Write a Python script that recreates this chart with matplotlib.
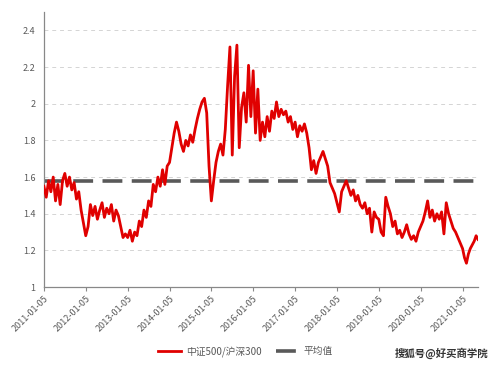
import pandas as pd
import numpy as np
import matplotlib
matplotlib.use('Agg')
from matplotlib import pyplot as plt

plt.rcParams['font.family'] = ['Noto Sans CJK SC', 'DejaVu Sans']

# ratio CSI500 / CSI300, values read per year (evenly spaced within each year)
v2011 = [1.55, 1.49, 1.58, 1.52, 1.60, 1.47, 1.56, 1.45, 1.58, 1.62, 1.55, 1.60, 1.53, 1.57, 1.48, 1.52, 1.42, 1.35]
v2012 = [1.28, 1.33, 1.45, 1.39, 1.44, 1.37, 1.42, 1.46, 1.38, 1.43, 1.40, 1.45, 1.36, 1.42, 1.39, 1.33, 1.27, 1.29]
v2013 = [1.27, 1.31, 1.25, 1.30, 1.28, 1.36, 1.33, 1.42, 1.38, 1.47, 1.44, 1.56, 1.52, 1.60, 1.55, 1.64, 1.56, 1.66]
v2014 = [1.68, 1.76, 1.84, 1.90, 1.85, 1.78, 1.74, 1.80, 1.77, 1.83, 1.79, 1.86, 1.92, 1.97, 2.01, 2.03, 1.95, 1.66]
v2015 = [1.47, 1.58, 1.68, 1.74, 1.78, 1.72, 1.86, 2.10, 2.31, 1.72, 2.15, 2.32, 1.76, 1.98, 2.06, 1.90, 2.21, 1.93]
v2016 = [2.18, 1.84, 2.08, 1.80, 1.90, 1.82, 1.93, 1.85, 1.96, 1.92, 2.01, 1.93, 1.97, 1.94, 1.96, 1.90, 1.93, 1.86]
v2017 = [1.90, 1.82, 1.88, 1.85, 1.89, 1.84, 1.76, 1.64, 1.69, 1.62, 1.68, 1.71, 1.74, 1.70, 1.66, 1.57, 1.54, 1.51]
v2018 = [1.46, 1.41, 1.52, 1.55, 1.58, 1.54, 1.50, 1.53, 1.47, 1.50, 1.45, 1.43, 1.46, 1.40, 1.43, 1.30, 1.41, 1.38]
v2019 = [1.37, 1.30, 1.28, 1.49, 1.44, 1.40, 1.33, 1.36, 1.29, 1.31, 1.27, 1.30, 1.34, 1.29, 1.26, 1.28, 1.25, 1.30]
v2020 = [1.33, 1.36, 1.41, 1.47, 1.38, 1.42, 1.36, 1.40, 1.37, 1.41, 1.29, 1.46, 1.40, 1.36, 1.32, 1.30, 1.27, 1.24]
v2021 = [1.21, 1.16, 1.13, 1.18, 1.21, 1.23, 1.25, 1.28, 1.26]
avg_value = 1.58

tick_labels = ['2011-01-05', '2012-01-05', '2013-01-05', '2014-01-05', '2015-01-05', '2016-01-05',
               '2017-01-05', '2018-01-05', '2019-01-05', '2020-01-05', '2021-01-05']
series_name = '中证500/沪深300'
avg_name = '平均值'


def build_series():
    years = [v2011, v2012, v2013, v2014, v2015, v2016, v2017, v2018, v2019, v2020]
    dates = []
    vals = []
    for i, v in enumerate(years):
        y = 2011 + i
        d = pd.date_range('%d-01-05' % y, '%d-01-05' % (y + 1), periods=len(v) + 1)[:-1]
        dates.extend(d)
        vals.extend(v)
    d = pd.date_range('2021-01-05', '2021-05-20', periods=len(v2021))
    dates.extend(d)
    vals.extend(v2021)
    return pd.Series(vals, index=pd.DatetimeIndex(dates))


def main():
    s = build_series()
    fig = plt.figure(figsize=(4.99, 3.68), dpi=100, facecolor='w')
    ax = fig.add_axes([0.088, 0.22, 0.870, 0.747])

    ax.plot(s.index, s.values, color='#e00000', lw=2.0, label=series_name, zorder=3)
    ax.plot([s.index[0], s.index[-1]], [avg_value, avg_value], color='#595959', lw=2.6,
            dashes=(5.5, 2.6), label=avg_name, zorder=2)

    ax.set_ylim(1, 2.5)
    ax.set_xlim(s.index[0], s.index[-1])
    ax.set_yticks([1, 1.2, 1.4, 1.6, 1.8, 2, 2.2, 2.4])
    ax.set_yticklabels(['1', '1.2', '1.4', '1.6', '1.8', '2', '2.2', '2.4'])
    ax.set_xticks(pd.to_datetime(tick_labels))
    ax.set_xticklabels(tick_labels, rotation=45, ha='right', rotation_mode='anchor')
    ax.tick_params(axis='y', length=0, labelsize=6.5, colors='#595959', pad=6)
    ax.tick_params(axis='x', length=3, labelsize=6.5, colors='#595959', color='#888888', pad=2)

    for yv in [1.2, 1.4, 1.6, 1.8, 2, 2.2, 2.4]:
        ax.axhline(yv, color='#d4d4d4', lw=0.7, ls=(0, (4, 4)), zorder=1)

    for sp in ['top', 'right']:
        ax.spines[sp].set_visible(False)
    for sp in ['left', 'bottom']:
        ax.spines[sp].set_color('#888888')
        ax.spines[sp].set_linewidth(0.9)

    leg = fig.legend(loc='center', bbox_to_anchor=(0.492, 0.045), ncol=2, frameon=False,
                     fontsize=7, handlelength=2.4, columnspacing=1.4, handletextpad=0.5)
    for t in leg.get_texts():
        t.set_color('#595959')

    fig.text(0.978, 0.04, '搜狐号@好买商学院', ha='right', va='center', fontsize=7.5,
             color='#333333', fontweight='bold')

    fig.savefig('out.png', dpi=100, facecolor='w')


if __name__ == "__main__":
    main()
